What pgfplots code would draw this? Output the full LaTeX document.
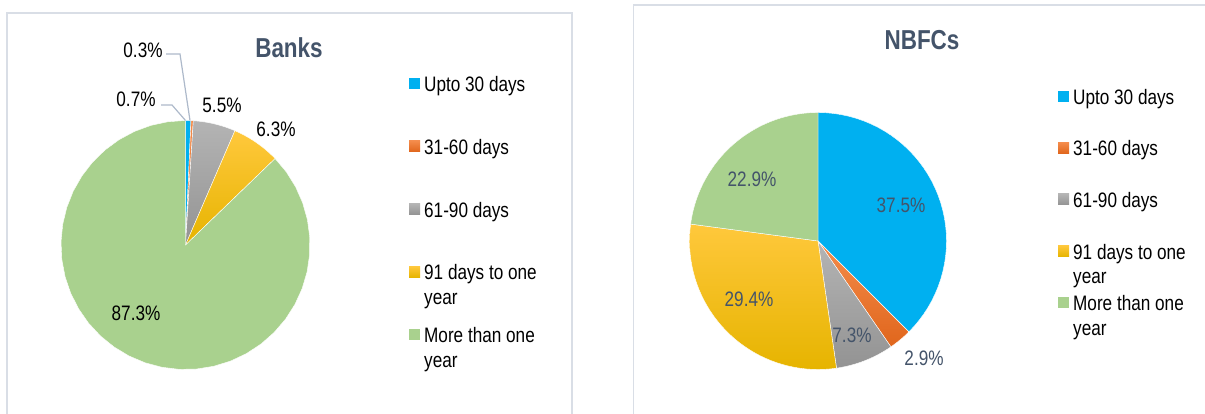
\documentclass[border=0pt]{standalone}
\usepackage{fontspec}
\setmainfont{Liberation Sans}[FakeStretch=0.82]
\usepackage{pgfplots}
\pgfplotsset{compat=1.18}
\definecolor{cBlue}{HTML}{00B0F0}
\definecolor{cOrangeT}{HTML}{F48C4C}
\definecolor{cOrangeB}{HTML}{E0661C}
\definecolor{cGrayT}{HTML}{B4B4B4}
\definecolor{cGrayB}{HTML}{939393}
\definecolor{cGoldT}{HTML}{FFC83C}
\definecolor{cGoldB}{HTML}{E6B400}
\definecolor{cGreen}{HTML}{A9D18E}
\definecolor{cTitle}{HTML}{44546A}
\definecolor{cFrame}{HTML}{D9DEE6}
\definecolor{cLeader}{HTML}{ADB9CA}
\newcommand\lgE[1]{\parbox[t]{150bp}{#1}}
\newcommand\lblfont{\fontsize{21}{25}\selectfont}
\pgfplotsset{
  pieaxis/.style={hide axis, clip=false, scale only axis, y dir=reverse,
    ymin=0, ymax=414,
    legend cell align=left,
    legend image code/.code={\path[##1,draw=none] (0bp,2.5bp) rectangle (11bp,13.5bp);},
    legend style={draw=none, fill=none, nodes={inner sep=0pt, anchor=base},
      column sep=4bp, font=\lblfont}},
  slice/.style={draw=white, line width=0.4bp, samples=40, variable=\t},
}
% Banks shares (%)
\pgfmathsetmacro\bT{0.7+0.3+5.5+6.3+87.3}
\pgfmathsetmacro\bA{(0.7)/\bT*360}
\pgfmathsetmacro\bB{(0.7+0.3)/\bT*360}
\pgfmathsetmacro\bC{(0.7+0.3+5.5)/\bT*360}
\pgfmathsetmacro\bD{(0.7+0.3+5.5+6.3)/\bT*360}
% NBFC shares (%)
\pgfmathsetmacro\nT{37.5+2.9+7.3+29.4+22.9}
\pgfmathsetmacro\nA{(37.5)/\nT*360}
\pgfmathsetmacro\nB{(37.5+2.9)/\nT*360}
\pgfmathsetmacro\nC{(37.5+2.9+7.3)/\nT*360}
\pgfmathsetmacro\nD{(37.5+2.9+7.3+29.4)/\nT*360}
\begin{document}%
\begin{tikzpicture}
\begin{scope}[overlay]
% ---------------- Banks ----------------
\begin{axis}[pieaxis, overlay, at={(0,0)}, anchor=south west, width=600bp, height=414bp,
  xmin=0, xmax=600,
  legend style={at={(axis cs:406,74)}, anchor=north west, row sep=46.2bp}]
\draw[cFrame, line width=1.3bp] (axis cs:7,414) -- (axis cs:7,13) -- (axis cs:572,13) -- (axis cs:572,414);
\addplot[slice, fill=cBlue, domain=0:\bA] ({185.5+124.5*sin(\t)},{245-124.5*cos(\t)}) -- (axis cs:185.5,245) -- cycle;
\addlegendentry{\lgE{Upto 30 days}}
\addplot[slice, top color=cOrangeT, bottom color=cOrangeB, domain=\bA:\bB] ({185.5+124.5*sin(\t)},{245-124.5*cos(\t)}) -- (axis cs:185.5,245) -- cycle;
\addlegendentry{\lgE{31-60 days}}
\addplot[slice, top color=cGrayT, bottom color=cGrayB, domain=\bB:\bC] ({185.5+124.5*sin(\t)},{245-124.5*cos(\t)}) -- (axis cs:185.5,245) -- cycle;
\addlegendentry{\lgE{61-90 days}}
\addplot[slice, top color=cGoldT, bottom color=cGoldB, domain=\bC:\bD] ({185.5+124.5*sin(\t)},{245-124.5*cos(\t)}) -- (axis cs:185.5,245) -- cycle;
\addlegendentry{\lgE{91 days to one\\year}}
\addplot[slice, fill=cGreen, domain=\bD:360] ({185.5+124.5*sin(\t)},{245-124.5*cos(\t)}) -- (axis cs:185.5,245) -- cycle;
\addlegendentry{\lgE{More than one\\year}}
\node[anchor=base, font=\bfseries\fontsize{27.5}{32}\selectfont, text=cTitle] at (axis cs:289,58) {Banks};
\draw[cLeader, line width=1.2bp] (axis cs:166,54) -- (axis cs:180,54) -- (axis cs:190,120.5);
\draw[cLeader, line width=1.2bp] (axis cs:161,105) -- (axis cs:172,105) -- (axis cs:185.5,120.5);
\node[anchor=base, font=\lblfont] at (axis cs:143,58) {0.3\%};
\node[anchor=base, font=\lblfont] at (axis cs:136,107) {0.7\%};
\node[anchor=base, font=\lblfont] at (axis cs:222,113) {5.5\%};
\node[anchor=base, font=\lblfont] at (axis cs:276,137) {6.3\%};
\node[anchor=base, font=\lblfont] at (axis cs:136,321) {87.3\%};
\end{axis}
% ---------------- NBFCs ----------------
\begin{axis}[pieaxis, overlay, at={(600bp,0)}, anchor=south west, width=605bp, height=414bp,
  xmin=600, xmax=1205,
  legend style={at={(axis cs:1055,87)}, anchor=north west, row sep=34.9bp}]
\draw[cFrame, line width=1.3bp] (axis cs:633.5,414) -- (axis cs:633.5,5) -- (axis cs:1205,5);
\addplot[slice, fill=cBlue, domain=0:\nA] ({818+128.5*sin(\t)},{241-128.5*cos(\t)}) -- (axis cs:818,241) -- cycle;
\addlegendentry{\lgE{Upto 30 days}}
\addplot[slice, top color=cOrangeT, bottom color=cOrangeB, domain=\nA:\nB] ({818+128.5*sin(\t)},{241-128.5*cos(\t)}) -- (axis cs:818,241) -- cycle;
\addlegendentry{\lgE{31-60 days}}
\addplot[slice, top color=cGrayT, bottom color=cGrayB, domain=\nB:\nC] ({818+128.5*sin(\t)},{241-128.5*cos(\t)}) -- (axis cs:818,241) -- cycle;
\addlegendentry{\lgE{61-90 days}}
\addplot[slice, top color=cGoldT, bottom color=cGoldB, domain=\nC:\nD] ({818+128.5*sin(\t)},{241-128.5*cos(\t)}) -- (axis cs:818,241) -- cycle;
\addlegendentry{\lgE{91 days to one\\year}}
\addplot[slice, fill=cGreen, domain=\nD:360] ({818+128.5*sin(\t)},{241-128.5*cos(\t)}) -- (axis cs:818,241) -- cycle;
\addlegendentry{\lgE{More than one\\year}}
\node[anchor=base, font=\bfseries\fontsize{27.5}{32}\selectfont, text=cTitle] at (axis cs:922,50) {NBFCs};
\node[anchor=base, font=\lblfont, text=cTitle] at (axis cs:901,213) {37.5\%};
\node[anchor=base, font=\lblfont, text=cTitle] at (axis cs:924,366) {2.9\%};
\node[anchor=base, font=\lblfont, text=cTitle] at (axis cs:852,343) {7.3\%};
\node[anchor=base, font=\lblfont, text=cTitle] at (axis cs:749,307) {29.4\%};
\node[anchor=base, font=\lblfont, text=cTitle] at (axis cs:752,187) {22.9\%};
\end{axis}
\end{scope}
\useasboundingbox (0,0) rectangle (1205bp,414bp);
\end{tikzpicture}%
\end{document}
